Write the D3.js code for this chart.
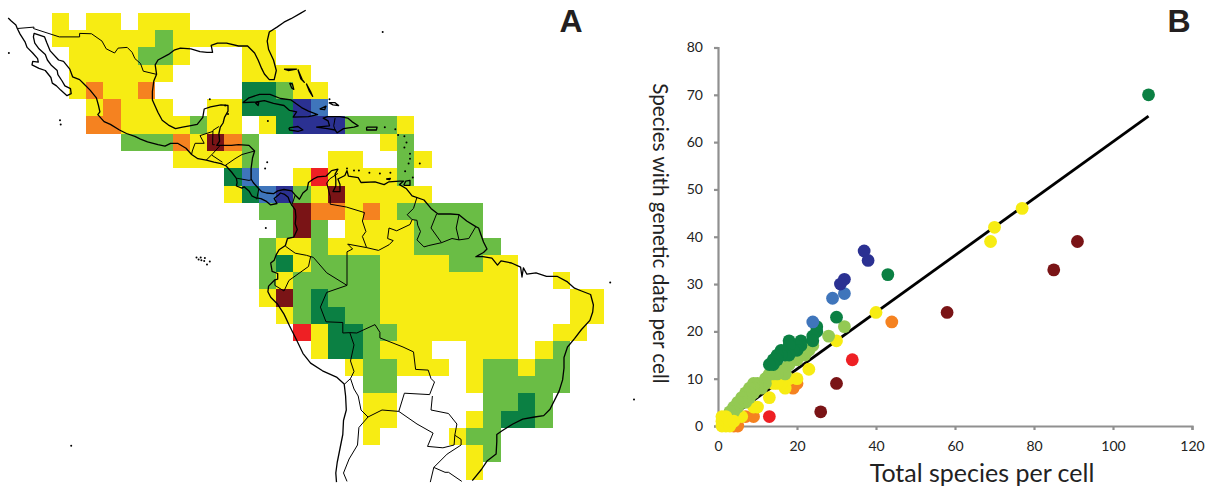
<!DOCTYPE html>
<html>
<head>
<meta charset="utf-8">
<script src="https://d3js.org/d3.v7.min.js"></script>
<style>
  html, body { margin: 0; padding: 0; background: #fff; }
  svg { display: block; }
  .tick text { font-family: Lato, sans-serif; font-size: 14px; fill: #222; }
  .domain, .tick line { stroke: #909090; }
  .title { font-family: Lato, sans-serif; fill: #222; }
  .panel { font-family: "Liberation Sans", sans-serif; font-weight: bold; font-size: 32px; fill: #231f20; }
</style>
</head>
<body>
<svg width="1210" height="488"></svg>
<script>
// Panel A: grid of cells, one string per row, one letter per column
const cellRows = [
  "y.yy.yyy",
  "yyyyyygyyyyyy",
  ".yyyyggy...yy",
  ".yyyyyy....yyyy",
  ".yoyyo.....ddgyy",
  "..yoyyy..yydddnb",
  "..ooyyyygyy.ydnnngggy",
  "....gggoymog.......yg",
  ".......yyyyg....yy..gy",
  "..........db..yryyyyg",
  "..........ydbngymyyyyy",
  "............ggmooyoyggggg",
  ".............gmg.yyyygggg",
  "............gyygyyyyyggggg",
  "............gdyggggyyyyggyy",
  "............gygggggyyyyyyyy..y",
  "............ymgdgggyyyyyyyy...yy",
  ".............ygddggyyyyyyyy...yy",
  "..............ryddggyyyyyyy..yy",
  "...............yddgyyy..yyy.yg",
  ".................yggyyy.yggygg",
  "..................gg....yggggg",
  "..................yy.....ggdg",
  "..................yy....ygddg",
  "..................y....ygg",
  "........................yg",
  "........................y"
];

const cellColors = {
  y: "#f7ec13", g: "#6abd45", d: "#0b8043", b: "#3f75bb",
  n: "#2b3192", o: "#f58220", r: "#ee2024", m: "#7a1416"
};

// Coastline, lon/lat
const mainland = [
  [-118.4,34.0],[-118.0,33.6],[-117.3,33.0],[-117.1,32.5],[-116.7,31.7],[-116.0,30.6],[-115.7,29.8],
  [-114.9,29.0],[-114.2,28.2],[-114.1,27.7],[-114.9,27.8],[-115.0,27.3],[-114.0,26.8],[-113.1,26.5],
  [-112.3,25.5],[-112.1,24.7],[-111.5,24.3],[-110.9,23.7],[-110.0,22.9],[-109.4,23.2],[-109.5,23.9],
  [-110.3,24.3],[-110.7,25.0],[-111.3,25.9],[-111.4,26.5],[-112.2,27.2],[-112.8,28.0],[-113.1,28.8],
  [-114.0,29.6],[-114.6,30.4],[-114.8,31.3],[-114.7,31.8],[-113.2,31.3],[-112.9,30.5],[-112.4,29.3],
  [-111.2,28.0],[-110.5,27.8],[-109.6,26.7],[-109.2,25.6],[-108.2,25.2],[-107.5,24.5],[-106.7,23.7],
  [-105.8,22.6],[-105.5,21.5],[-105.3,20.6],[-105.6,20.2],[-104.7,19.2],[-103.8,18.8],[-102.5,18.0],
  [-101.5,17.5],[-100.3,17.1],[-99.5,16.7],[-98.5,16.3],[-97.0,15.9],[-96.0,15.7],[-95.2,16.1],
  [-94.2,16.1],[-93.0,15.4],[-92.2,14.5],[-91.3,13.9],[-90.1,13.7],[-89.0,13.4],[-88.0,13.2],
  [-87.6,13.0],[-87.3,12.9],[-86.5,12.0],[-85.8,11.1],[-85.7,10.5],[-85.8,10.0],[-85.0,9.7],
  [-84.7,9.9],[-84.0,9.3],[-83.6,8.6],[-83.0,8.3],[-82.3,8.2],[-81.5,7.8],[-80.9,7.3],[-80.0,7.5],
  [-80.4,8.2],[-79.8,8.7],[-79.5,9.0],[-78.9,8.8],[-78.4,8.4],[-78.2,7.8],[-77.9,7.3],[-77.4,6.6],
  [-77.3,5.6],[-77.4,4.6],[-77.1,3.8],[-77.6,2.7],[-78.5,2.5],[-78.8,1.5],[-79.7,0.9],[-80.1,0.2],
  [-80.4,-0.6],[-80.9,-1.0],[-80.7,-2.2],[-79.9,-2.5],[-79.9,-3.3],[-80.3,-3.4],[-81.2,-4.3],
  [-81.3,-5.1],[-80.9,-5.9],[-79.9,-6.9],[-79.0,-8.3],[-78.2,-10.0],[-77.2,-12.0],[-76.3,-13.9],
  [-75.2,-15.3],[-73.5,-16.4],[-71.5,-17.3],[-70.4,-18.3],[-70.2,-20.0],[-70.1,-22.0],[-70.5,-23.5],
  [-70.6,-25.5],[-71.0,-27.5],[-71.4,-29.5],[-71.6,-31.0],[-71.5,-32.3]
];

const atlanticCoast = [
  [-52.1,-32.1],[-50.8,-30.5],[-50.0,-29.3],[-48.7,-28.3],[-48.6,-26.5],[-48.6,-25.5],[-47.9,-25.0],
  [-46.3,-24.0],[-44.9,-23.3],[-43.2,-23.0],[-41.9,-22.8],[-41.0,-21.9],[-40.2,-20.3],[-39.7,-19.3],
  [-39.2,-17.7],[-39.0,-16.0],[-39.0,-14.5],[-38.5,-13.0],[-37.5,-11.8],[-36.5,-10.5],[-35.3,-9.2],
  [-34.9,-8.0],[-34.8,-7.0],[-35.2,-5.5],[-36.5,-5.0],[-37.5,-4.6],[-38.5,-3.7],[-40.0,-2.9],
  [-41.5,-2.9],[-43.0,-2.4],[-44.3,-2.6],[-44.8,-1.7],[-45.0,-3.0],[-45.2,-1.6],[-46.5,-1.0],
  [-48.0,-0.7],[-48.5,-1.3],[-49.3,-0.3],[-50.6,-0.1],[-51.6,-0.1],[-50.5,0.5],[-50.0,1.0],[-50.5,2.0],
  [-51.2,4.0],[-51.6,4.2],[-52.9,5.0],[-54.0,5.9],[-55.2,6.0],[-57.0,6.0],[-58.0,6.8],[-59.0,8.0],
  [-60.7,8.6],[-61.5,9.6],[-62.5,10.2],[-61.9,10.7],[-62.5,10.7],[-64.0,10.6],[-64.7,10.2],[-66.0,10.6],
  [-68.0,10.5],[-68.4,11.2],[-69.8,11.4],[-70.0,12.2],[-70.3,11.5],[-71.3,11.0],[-71.0,10.2],[-71.0,9.2],
  [-72.0,9.2],[-71.6,10.0],[-71.6,11.0],[-71.7,11.7],[-71.3,12.4],[-72.2,12.2],[-73.0,11.4],[-74.2,11.3],
  [-74.8,11.0],[-75.5,10.5],[-75.7,9.5],[-76.3,9.0],[-76.8,8.1],[-77.3,8.6],[-77.9,9.3],[-79.0,9.5],
  [-79.9,9.3],[-80.5,8.9],[-81.5,9.0],[-82.2,9.2],[-82.6,9.6],[-83.4,10.5],[-83.7,11.0],[-83.7,12.5],
  [-83.5,14.0],[-83.2,15.0],[-84.0,15.8],[-85.5,15.9],[-86.5,15.8],[-88.0,15.8],[-88.6,15.8],[-88.2,16.4],
  [-88.3,17.5],[-88.1,18.4],[-87.7,19.0],[-87.5,19.8],[-87.0,20.7],[-87.0,21.5],[-88.0,21.6],[-89.5,21.3],
  [-90.4,21.0],[-90.6,19.8],[-91.4,18.8],[-92.5,18.6],[-93.5,18.4],[-94.5,18.2],[-95.5,18.7],[-96.4,19.4],
  [-97.0,20.5],[-97.8,22.3],[-97.8,23.5],[-97.6,25.0],[-97.2,25.95],[-97.4,27.3],[-97.0,28.0],[-95.5,28.8],
  [-94.7,29.4],[-93.8,29.7],[-92.3,29.6],[-91.0,29.2],[-90.0,29.1],[-89.2,29.1],[-89.4,30.1],[-88.5,30.4],
  [-87.2,30.4],[-85.5,30.0],[-84.2,30.0],[-83.2,29.0],[-82.7,28.0],[-82.2,26.8],[-81.8,26.0],[-81.1,25.2],
  [-80.4,25.2],[-80.1,26.5],[-80.5,28.0],[-81.2,29.5],[-81.4,30.7],[-81.1,32.0],[-80.0,32.7],[-79.0,33.4],
  [-78.0,33.9],[-76.6,34.7],[-75.9,35.1]
];

const borders = [
  [[-117.1,32.5],[-114.7,32.7],[-114.8,32.5],[-111.1,31.3],[-108.2,31.3],[-108.2,31.8],[-106.5,31.75],[-105,30.7],[-104.4,29.6],[-103.2,29.0],[-102.7,29.7],[-101.4,29.8],[-100.7,29.1],[-100.3,28.2],[-99.5,27.5],[-99.1,26.4],[-97.2,25.95]],
  [[-92.2,14.5],[-92.1,15.0],[-91.7,16.1],[-90.4,16.1],[-91.0,17.2],[-89.15,17.8],[-89.15,17.95],[-88.3,18.5]],
  [[-89.15,17.8],[-89.2,15.9],[-88.9,15.9]],
  [[-88.2,15.7],[-89.2,14.6],[-90.1,13.7]],
  [[-89.3,14.4],[-87.8,13.4]],
  [[-87.3,13.0],[-86.0,13.9],[-85.0,14.5],[-83.2,15.0]],
  [[-85.7,11.1],[-84.0,10.8],[-83.65,10.9]],
  [[-82.6,9.6],[-82.9,8.1]],
  [[-77.4,8.7],[-77.9,7.2]],
  [[-71.3,11.8],[-72.5,11.0],[-72.9,10.4],[-72.4,8.5],[-72.4,7.4],[-70.1,7.0],[-67.5,6.2],[-67.8,5.0],[-67.3,3.5],[-67.8,2.8],[-67.2,1.2]],
  [[-67.2,1.2],[-65.5,0.8],[-64.0,1.6],[-63.4,2.2],[-64.2,2.5],[-64.0,4.0],[-62.9,3.6],[-61.0,4.5],[-60.7,5.2]],
  [[-60.7,5.2],[-61.4,5.9],[-60.5,6.8],[-60.0,8.4]],
  [[-60.7,5.2],[-60.0,5.1],[-59.9,4.4],[-59.5,3.5],[-60.0,2.3],[-59.0,1.3],[-58.3,1.5],[-56.5,1.9]],
  [[-56.5,1.9],[-58.0,4.0],[-57.2,6.0]],
  [[-56.5,1.9],[-55.0,2.5],[-54.0,2.3]],
  [[-54.0,2.3],[-54.4,4.0],[-54.0,5.9]],
  [[-54.0,2.3],[-52.6,2.5],[-51.6,4.2]],
  [[-67.2,1.2],[-69.9,1.7],[-69.2,1.0],[-70.0,0.6],[-70.0,-4.2]],
  [[-70.0,-4.2],[-72.9,-2.4],[-74.8,-0.2]],
  [[-74.8,-0.2],[-75.8,0.1],[-77.4,0.4],[-78.8,1.4]],
  [[-75.2,-0.1],[-75.5,-1.5],[-78.3,-3.5],[-79.0,-5.0],[-80.3,-4.2],[-80.3,-3.4]],
  [[-70.0,-4.2],[-72.9,-5.2],[-73.8,-7.3],[-73.0,-9.4],[-70.6,-9.5],[-70.6,-11.0],[-69.6,-10.95]],
  [[-69.6,-10.95],[-68.6,-11.0],[-66.0,-9.8],[-65.3,-10.9],[-65.3,-11.7],[-62.0,-13.0],[-60.5,-13.7],[-60.2,-16.2],[-58.4,-16.3],[-58.0,-17.5],[-57.5,-18.0]],
  [[-69.6,-10.95],[-69.0,-12.7],[-69.5,-15.0],[-69.0,-16.5],[-69.5,-17.5]],
  [[-69.5,-17.5],[-70.4,-18.35]],
  [[-69.5,-17.5],[-69.0,-19.0],[-68.4,-20.0],[-68.0,-22.0],[-67.0,-23.0]],
  [[-67.0,-23.0],[-68.3,-24.5],[-68.5,-27.0],[-69.7,-29.0],[-70.5,-31.0],[-70.0,-32.2]],
  [[-67.0,-23.0],[-65.0,-22.0],[-62.6,-22.2]],
  [[-62.6,-22.2],[-61.8,-19.6],[-58.2,-19.8],[-57.5,-18.0]],
  [[-62.6,-22.2],[-60.0,-24.0],[-57.7,-25.3],[-58.5,-27.2],[-56.3,-27.4],[-54.7,-27.0],[-54.6,-25.6]],
  [[-57.8,-20.0],[-58.0,-22.0],[-55.5,-22.5],[-54.3,-24.0],[-54.6,-25.6]],
  [[-54.6,-25.6],[-53.7,-26.2],[-53.7,-27.0],[-55.7,-28.3],[-57.6,-30.2]],
  [[-58.1,-32.3],[-57.6,-30.2],[-56.0,-30.9],[-55.5,-30.9],[-53.6,-32.2]],
  [[-71.7,19.7],[-71.9,18.6],[-71.7,18.0]]
];

const islands = [
  [[-84.9,21.9],[-84,22.6],[-82.5,23.1],[-81,23.1],[-79.5,22.5],[-78,22.3],[-76.5,21.2],[-75.5,20.7],[-74.2,20.2],[-75.5,19.9],[-77.7,19.85],[-77.2,20.6],[-78.2,20.8],[-79,21.5],[-80.5,21.8],[-81.8,22.2],[-83,22.0],[-84.9,21.9]],
  [[-78.3,18.3],[-77,18.5],[-76.3,18],[-77,17.8],[-78.2,18],[-78.3,18.3]],
  [[-74.4,18.4],[-72.8,18.2],[-71.7,18.0],[-71.4,17.6],[-70.5,18.2],[-69,18.4],[-68.4,18.6],[-69.3,19.2],[-69.9,19.7],[-71,19.9],[-72.8,19.9],[-73.4,19.7],[-72.7,19.3],[-72.5,18.6],[-74.4,18.4]],
  [[-67.2,18.4],[-65.7,18.4],[-65.8,18.0],[-67.2,18.0],[-67.2,18.4]],
  [[-61.9,10.1],[-61,10.1],[-61,10.8],[-61.6,10.7],[-61.9,10.1]],
  [[-78.2,24.7],[-77.8,24.6],[-77.6,23.8],[-77.9,24.0],[-78.2,24.7]],
  [[-77.0,26.6],[-76.4,25.2],[-76.1,24.8],[-76.6,25.3],[-77.0,26.6]],
  [[-75.8,24.6],[-75.2,23.5],[-74.9,22.8],[-75.4,23.6],[-75.8,24.6]],
  [[-79.0,26.7],[-78.0,26.7],[-77.2,26.7],[-78.4,26.5],[-79.0,26.7]],
  [[-73.9,21.0],[-73.0,21.4],[-73.2,20.9],[-73.9,21.0]],
  [[-72.6,21.9],[-71.7,21.9],[-71.2,21.5],[-72.0,21.6],[-72.6,21.9]],
  [[-64.4,11.0],[-63.8,11.1],[-63.9,10.9],[-64.4,11.0]],
  [[-83.1,21.9],[-82.6,21.9],[-82.7,21.5],[-83.1,21.9]]
];

const dots = [
  [-91.2,-0.5],[-90.8,-0.6],[-90.4,-0.7],[-90.3,-0.3],[-89.6,-0.8],[-90.9,-0.2],[-90.0,-1.2],[-91.5,-0.2],
  [-110.9,18.8],[-111.0,19.4],[-118.3,29.0],[-81.7,12.5],[-81.4,13.4],[-81.6,4.0],[-87.0,20.3],[-87.4,21.5],
  [-61.8,15.5],[-61.5,16.2],[-61.0,14.6],[-61.0,13.9],[-61.2,13.2],[-61.7,12.1],[-59.6,13.2],[-61.8,17.1],
  [-62.7,17.3],[-63.1,18.1],[-64.6,18.4],[-70.0,12.5],[-69.0,12.2],[-68.3,12.2],[-66.8,11.9],[-65.3,11.8],
  [-63.8,11.9],[-60.6,11.2],[-32.4,-3.8],[-72.5,22.4],[-81.3,19.3],[-89.6,22.4],[-64.9,32.0],[-109.4,-27.1],
  [-29.0,-20.5]
];

// Panel B: one pair of lists per colour class
const maroonX = [26,30,58,85,91],        maroonY = [3,9,24,33,39];
const redX = [13,34],                    redY = [2,14];
const orangeX = [44,9,7,19,20,4,5],      orangeY = [22,2,2,8,9,0,0];
const yellowX = [77,70,69,40,30,23,20,18,17,16,15,14,13,10,9,6,5],
      yellowY = [46,42,39,24,18,12,10,10,8,9,9,9,6,4,4,2,2];
const lightX = [32,28,24,23,22,21,20,19,18,17,17,16,15,14,13,12,12,11,10,10,9,9,9,8,8,8,7,7,7,6,6,5,5,4,4,3],
      lightY = [21,19,17,16,15,15,14,14,13,12,11,12,11,11,11,10,9,8,9,8,9,8,7,8,7,6,7,6,5,6,5,5,4,4,3,3];
const darkX = [109,43,30,25,25,24,24,21,21,20,20,19,18,18,18,17,16,16,15,15,14,14,13],
      darkY = [70,32,23,21,20,19,18,18,17,17,16,16,18,17,15,15,16,15,15,14,14,13,13];
const blueX = [24,29,32],                blueY = [22,27,28];
const navyX = [37,38,32,31],             navyY = [37,35,31,30];
const originX = [1,1,1,2,2,2,3,3,4],     originY = [0,1,2,0,1,2,0,1,1];

const xTicks = [0,20,40,60,80,100,120];
const yTicks = [0,10,20,30,40,50,60,70,80];
const fitX = [0,109], fitY = [0,65.5];

const svg = d3.select("svg");

// --- panel A ---
// rounded scales, so neighbouring cells share an edge without a seam
const colScale = d3.scaleLinear().domain([0, 1]).range([51.67, 68.94]).interpolate(d3.interpolateRound);
const rowScale = d3.scaleLinear().domain([0, 1]).range([12.67, 29.97]).interpolate(d3.interpolateRound);

const cells = cellRows.flatMap((row, r) =>
  row.split("").map((code, c) => ({ r, c, code })).filter(d => d.code !== "."));

svg.append("g").attr("shape-rendering", "crispEdges").selectAll("rect")
  .data(cells)
  .join("rect")
  .attr("x", d => colScale(d.c))
  .attr("y", d => rowScale(d.r))
  .attr("width", d => colScale(d.c + 1) - colScale(d.c))
  .attr("height", d => rowScale(d.r + 1) - rowScale(d.r))
  .attr("fill", d => cellColors[d.code]);

const projection = d3.geoEquirectangular()
  .scale(7 * 180 / Math.PI)
  .translate([837, 256]);

const toPath = d3.line().x(d => projection(d)[0]).y(d => projection(d)[1]);

svg.append("g")
  .attr("fill", "none")
  .attr("stroke", "#000")
  .attr("stroke-width", 1.3)
  .attr("stroke-linejoin", "round")
  .selectAll("path")
  .data([mainland, atlanticCoast, ...islands])
  .join("path")
  .attr("d", toPath);

svg.append("g")
  .attr("fill", "none")
  .attr("stroke", "#000")
  .attr("stroke-width", 1)
  .attr("stroke-linejoin", "round")
  .selectAll("path")
  .data(borders)
  .join("path")
  .attr("d", toPath);

svg.append("g").selectAll("circle")
  .data(dots)
  .join("circle")
  .attr("cx", d => projection(d)[0])
  .attr("cy", d => projection(d)[1])
  .attr("r", 1)
  .attr("fill", "#000");

// --- panel B ---
const x = d3.scaleLinear().domain([0, 120]).range([718, 1192]);
const y = d3.scaleLinear().domain([0, 80]).range([426, 47.5]);

svg.append("g")
  .attr("transform", "translate(0,426)")
  .call(d3.axisBottom(x).tickValues(xTicks).tickSize(4).tickPadding(11))
  .call(g => g.selectAll(".domain, .tick line").attr("stroke-width", 2.2));

svg.append("g")
  .attr("transform", "translate(718,0)")
  .call(d3.axisLeft(y).tickValues(yTicks).tickSize(4).tickPadding(11))
  .call(g => g.selectAll(".domain, .tick line").attr("stroke-width", 2.2));

svg.append("path")
  .datum(fitX.map((v, i) => [v, fitY[i]]))
  .attr("fill", "none")
  .attr("stroke", "#000")
  .attr("stroke-width", 2.8)
  .attr("d", d3.line().x(d => x(d[0])).y(d => y(d[1])));

const series = [
  [maroonX, maroonY, "#7a1416"],
  [redX, redY, "#ee2024"],
  [orangeX, orangeY, "#f58220"],
  [yellowX, yellowY, "#f7ec13"],
  [lightX, lightY, "#93c953"],
  [darkX, darkY, "#0b8043"],
  [blueX, blueY, "#3f75bb"],
  [navyX, navyY, "#2b3192"],
  [originX, originY, "#f7ec13"]
];

series.forEach(([xs, ys, color]) => {
  svg.append("g").selectAll("circle")
    .data(xs.map((v, i) => [v, ys[i]]))
    .join("circle")
    .attr("cx", d => x(d[0]))
    .attr("cy", d => y(d[1]))
    .attr("r", 6.4)
    .attr("fill", color);
});

svg.append("text").attr("class", "title")
  .attr("x", 982).attr("y", 482).attr("text-anchor", "middle")
  .style("font-size", "25px")
  .text("Total species per cell");

svg.append("text").attr("class", "title")
  .attr("transform", "translate(653,233.5) rotate(90)")
  .attr("text-anchor", "middle")
  .style("font-size", "20.7px")
  .text("Species with genetic data per cell");

svg.append("text").attr("class", "panel").attr("x", 571).attr("y", 32).attr("text-anchor", "middle").text("A");
svg.append("text").attr("class", "panel").attr("x", 1179).attr("y", 32).attr("text-anchor", "middle").text("B");
</script>
</body>
</html>
